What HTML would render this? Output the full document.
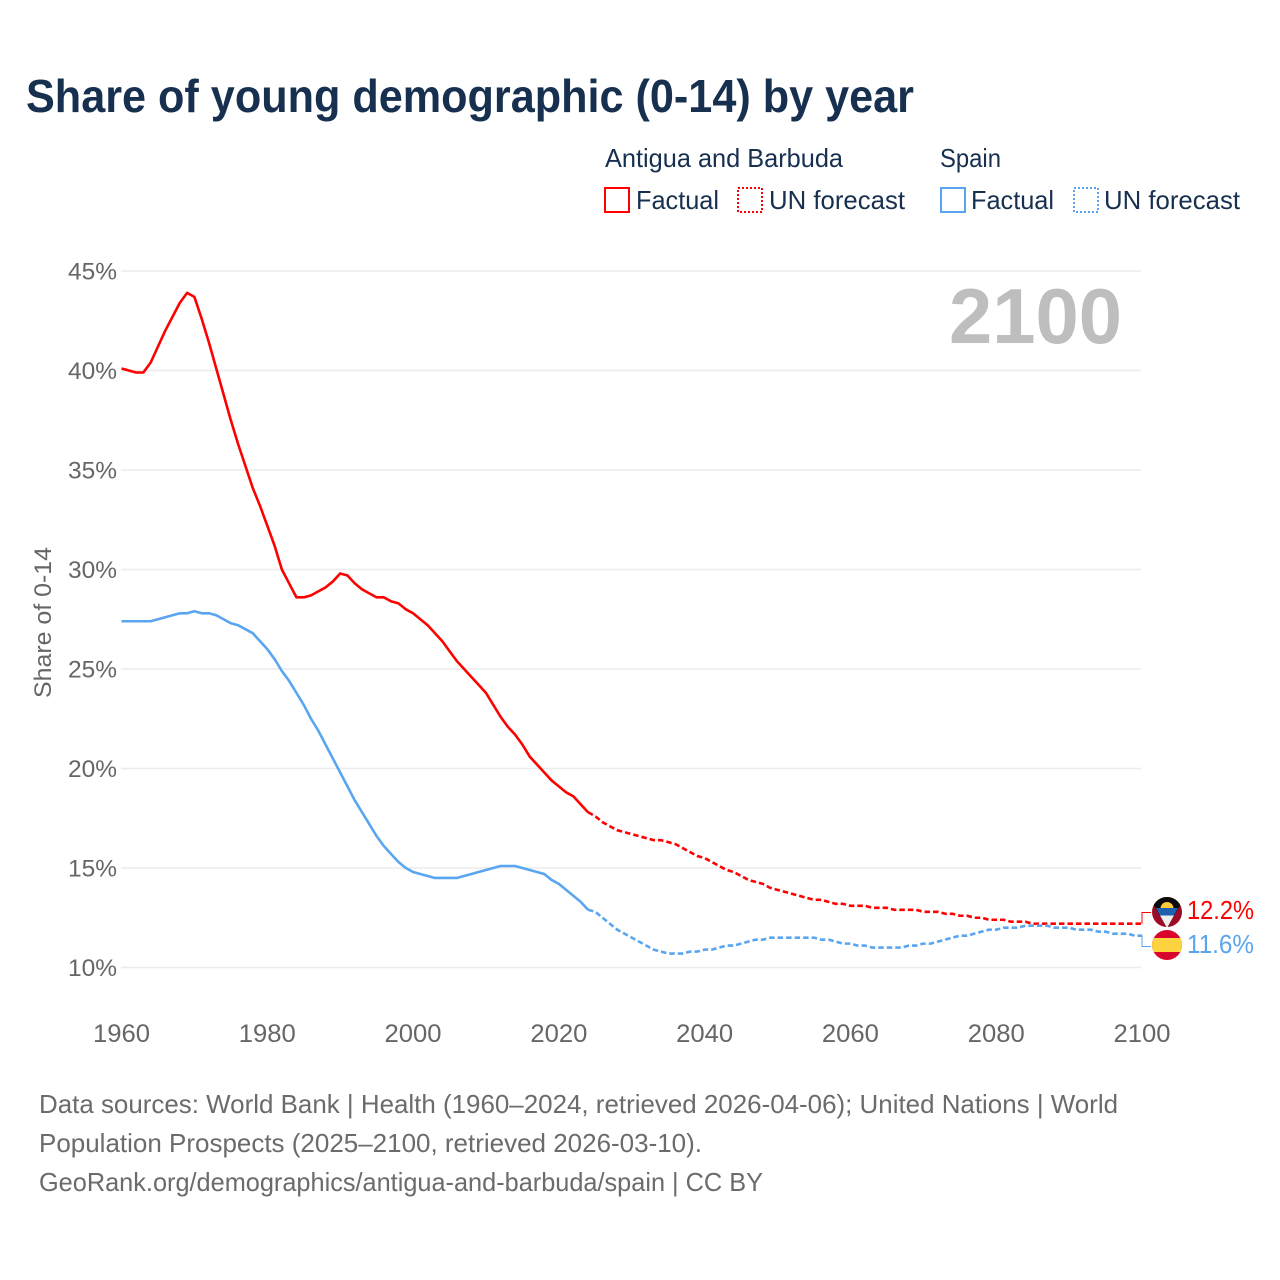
<!DOCTYPE html>
<html lang="en">
<head>
<meta charset="utf-8">
<title>Share of young demographic (0-14) by year</title>
<style>
html,body{margin:0;padding:0;background:#fff;}
svg{display:block;font-family:"Liberation Sans",sans-serif;}
</style>
</head>
<body>
<svg id="chart" width="1280" height="1280" viewBox="0 0 1280 1280" xmlns="http://www.w3.org/2000/svg">
  <defs>
    <clipPath id="flag-clip-ag"><circle cx="1167" cy="912" r="15"/></clipPath>
    <clipPath id="flag-clip-es"><circle cx="1167" cy="945" r="15"/></clipPath>
  </defs>
  <rect width="1280" height="1280" fill="#fff"/>
  <text x="26" y="112" font-size="46" font-weight="700" fill="#17304f" textLength="888" lengthAdjust="spacingAndGlyphs">Share of young demographic (0-14) by year</text>

  <g fill="#17304f" font-size="26">
    <text x="605" y="167" textLength="238" lengthAdjust="spacingAndGlyphs">Antigua and Barbuda</text>
    <text x="940" y="167" textLength="61" lengthAdjust="spacingAndGlyphs">Spain</text>
    <rect x="605" y="188" width="24" height="24" fill="none" stroke="#ff0000" stroke-width="2"/>
    <text x="636" y="209" textLength="83" lengthAdjust="spacingAndGlyphs">Factual</text>
    <rect x="738" y="188" width="24" height="24" fill="none" stroke="#ff0000" stroke-width="2" stroke-dasharray="2 2"/>
    <text x="769" y="209" textLength="136" lengthAdjust="spacingAndGlyphs">UN forecast</text>
    <rect x="941" y="188" width="24" height="24" fill="none" stroke="#5aa5f0" stroke-width="2"/>
    <text x="971" y="209" textLength="83" lengthAdjust="spacingAndGlyphs">Factual</text>
    <rect x="1074" y="188" width="24" height="24" fill="none" stroke="#5aa5f0" stroke-width="2" stroke-dasharray="2 2"/>
    <text x="1104" y="209" textLength="136" lengthAdjust="spacingAndGlyphs">UN forecast</text>
  </g>

  <g id="grid"></g>
  <g id="y-ticks"></g>
  <g id="x-ticks"></g>

  <text transform="translate(51 698) rotate(-90)" font-size="24" fill="#666" textLength="151" lengthAdjust="spacingAndGlyphs">Share of 0-14</text>
  <text x="949" y="343" font-size="78" font-weight="700" fill="#bebebe" textLength="173" lengthAdjust="spacingAndGlyphs">2100</text>

  <g id="series"></g>

  <g clip-path="url(#flag-clip-ag)">
    <rect x="1152" y="897" width="30" height="30" fill="#9c0a26"/>
    <polygon points="1149,897 1185,897 1167,928" fill="#0a0a0a"/>
    <path d="M1160.5 908.5A6.5 6.5 0 0 1 1173.5 908.5Z" fill="#ffc93a"/>
    <polygon points="1156,908 1178,908 1174,915.5 1160,915.5" fill="#1f5fb0"/>
    <polygon points="1160,915.5 1174,915.5 1167,928" fill="#eeeeee"/>
  </g>
  <g clip-path="url(#flag-clip-es)">
    <rect x="1152" y="930" width="30" height="30" fill="#d9042b"/>
    <rect x="1152" y="938" width="30" height="14" fill="#fdd33f"/>
  </g>

  <g font-size="26" fill="#6b6b6b">
    <text x="39" y="1113" textLength="1079" lengthAdjust="spacingAndGlyphs">Data sources: World Bank | Health (1960–2024, retrieved 2026-04-06); United Nations | World</text>
    <text x="39" y="1152" textLength="663" lengthAdjust="spacingAndGlyphs">Population Prospects (2025–2100, retrieved 2026-03-10).</text>
    <text x="39" y="1191" textLength="724" lengthAdjust="spacingAndGlyphs">GeoRank.org/demographics/antigua-and-barbuda/spain | CC BY</text>
  </g>
</svg>
<script>
const firstYear = 1960;
const forecastStartYear = 2024;
const xTickYears = [1960, 1980, 2000, 2020, 2040, 2060, 2080, 2100];
const yTickValues = [10, 15, 20, 25, 30, 35, 40, 45];
const antiguaValues = [
  40.1,40.0,39.9,39.9,40.4,41.2,42.0,42.7,43.4,43.9,
  43.7,42.6,41.4,40.1,38.8,37.5,36.3,35.2,34.1,33.2,
  32.2,31.2,30.0,29.3,28.6,28.6,28.7,28.9,29.1,29.4,
  29.8,29.7,29.3,29.0,28.8,28.6,28.6,28.4,28.3,28.0,
  27.8,27.5,27.2,26.8,26.4,25.9,25.4,25.0,24.6,24.2,
  23.8,23.2,22.6,22.1,21.7,21.2,20.6,20.2,19.8,19.4,
  19.1,18.8,18.6,18.2,17.8,17.6,17.3,17.1,16.9,16.8,
  16.7,16.6,16.5,16.4,16.4,16.3,16.2,16.0,15.8,15.6,
  15.5,15.3,15.1,14.9,14.8,14.6,14.4,14.3,14.2,14.0,
  13.9,13.8,13.7,13.6,13.5,13.4,13.4,13.3,13.2,13.2,
  13.1,13.1,13.1,13.0,13.0,13.0,12.9,12.9,12.9,12.9,
  12.8,12.8,12.8,12.7,12.7,12.6,12.6,12.5,12.5,12.4,
  12.4,12.4,12.3,12.3,12.3,12.2,12.2,12.2,12.2,12.2,
  12.2,12.2,12.2,12.2,12.2,12.2,12.2,12.2,12.2,12.2,
  12.2
];
const spainValues = [
  27.4,27.4,27.4,27.4,27.4,27.5,27.6,27.7,27.8,27.8,
  27.9,27.8,27.8,27.7,27.5,27.3,27.2,27.0,26.8,26.4,
  26.0,25.5,24.9,24.4,23.8,23.2,22.5,21.9,21.2,20.5,
  19.8,19.1,18.4,17.8,17.2,16.6,16.1,15.7,15.3,15.0,
  14.8,14.7,14.6,14.5,14.5,14.5,14.5,14.6,14.7,14.8,
  14.9,15.0,15.1,15.1,15.1,15.0,14.9,14.8,14.7,14.4,
  14.2,13.9,13.6,13.3,12.9,12.8,12.5,12.2,11.9,11.7,
  11.5,11.3,11.1,10.9,10.8,10.7,10.7,10.7,10.8,10.8,
  10.9,10.9,11.0,11.1,11.1,11.2,11.3,11.4,11.4,11.5,
  11.5,11.5,11.5,11.5,11.5,11.5,11.4,11.4,11.3,11.2,
  11.2,11.1,11.1,11.0,11.0,11.0,11.0,11.0,11.1,11.1,
  11.2,11.2,11.3,11.4,11.5,11.6,11.6,11.7,11.8,11.9,
  11.9,12.0,12.0,12.0,12.1,12.1,12.1,12.1,12.0,12.0,
  12.0,11.9,11.9,11.9,11.8,11.8,11.7,11.7,11.7,11.6,
  11.6
];

const SVG_NS = 'http://www.w3.org/2000/svg';
function xScale(year) { return 121.5 + (year - 1960) * (1142 - 121.5) / 140; }
function yScale(v) { return 967.5 - (v - 10) * (967.5 - 271) / 35; }
function make(tag, attrs, parent) {
  const el = document.createElementNS(SVG_NS, tag);
  for (const k in attrs) el.setAttribute(k, attrs[k]);
  parent.appendChild(el);
  return el;
}
function pathFrom(values, fromYear, toYear) {
  let d = '';
  values.forEach(function (v, i) {
    const yr = firstYear + i;
    if (yr < fromYear || yr > toYear) return;
    d += (d ? 'L' : 'M') + xScale(yr).toFixed(2) + ' ' + yScale(v).toFixed(2);
  });
  return d;
}

const gridG = document.getElementById('grid');
const yTickG = document.getElementById('y-ticks');
yTickValues.forEach(function (v) {
  const line = make('line', {x1: 121, x2: 1141, y1: yScale(v), y2: yScale(v), stroke: '#ececec', 'stroke-width': 1.5}, gridG);
  
  
  const t = make('text', {x: 68, y: yScale(v) + 8.5, 'font-size': 24, fill: '#666', textLength: 49, lengthAdjust: 'spacingAndGlyphs'}, yTickG);
  
  
  t.textContent = v + '%';
});

const xTickG = document.getElementById('x-ticks');
xTickYears.forEach(function (yr) {
  const t = make('text', {x: xScale(yr) - 28.5, y: 1042, 'font-size': 25, fill: '#666', textLength: 57, lengthAdjust: 'spacingAndGlyphs'}, xTickG);
  
  
  t.textContent = yr;
});

const seriesG = document.getElementById('series');
const lastYear = firstYear + antiguaValues.length - 1;
const common = {fill: 'none', 'stroke-width': 2.6, 'stroke-linejoin': 'round'};

const antiguaFactual = make('path', Object.assign({d: pathFrom(antiguaValues, firstYear, forecastStartYear), stroke: '#ff0000'}, common), seriesG);


const antiguaForecast = make('path', Object.assign({d: pathFrom(antiguaValues, forecastStartYear, lastYear), stroke: '#ff0000', 'stroke-dasharray': '5.5 3'}, common), seriesG);


const spainFactual = make('path', Object.assign({d: pathFrom(spainValues, firstYear, forecastStartYear), stroke: '#5aa5f0'}, common), seriesG);


const spainForecast = make('path', Object.assign({d: pathFrom(spainValues, forecastStartYear, lastYear), stroke: '#5aa5f0', 'stroke-dasharray': '5.5 3'}, common), seriesG);



const lastAntigua = antiguaValues[antiguaValues.length - 1];
const lastSpain = spainValues[spainValues.length - 1];
const endX = xScale(lastYear);
const leaderA = make('path', {d: 'M' + endX + ' ' + yScale(lastAntigua) + 'V912.5H1151', fill: 'none', stroke: '#ff0000', 'stroke-width': 1}, seriesG);


const leaderS = make('path', {d: 'M' + endX + ' ' + yScale(lastSpain) + 'V946.5H1151', fill: 'none', stroke: '#5aa5f0', 'stroke-width': 1}, seriesG);



const labelA = make('text', {x: 1187, y: 919, 'font-size': 26, fill: '#ff0000', textLength: 67, lengthAdjust: 'spacingAndGlyphs'}, seriesG);


labelA.textContent = lastAntigua.toFixed(1) + '%';
const labelS = make('text', {x: 1187, y: 953, 'font-size': 26, fill: '#5aa5f0', textLength: 67, lengthAdjust: 'spacingAndGlyphs'}, seriesG);


labelS.textContent = lastSpain.toFixed(1) + '%';
</script>
</body>
</html>
